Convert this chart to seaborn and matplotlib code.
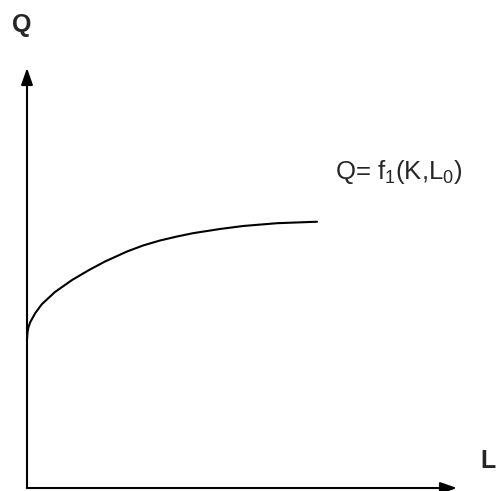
import matplotlib
matplotlib.use("Agg")
import matplotlib.pyplot as plt
from matplotlib.patches import FancyArrowPatch
import pandas as pd
import seaborn as sns

# Labour input L and output Q along the short-run production curve
labour = [0.000, 0.012, 0.035, 0.077, 0.193, 0.349, 0.651, 1.047, 1.442, 1.814,
          2.326, 2.698, 3.093, 3.488, 3.860, 4.488, 5.023, 5.814, 6.744]
output = [3.524, 3.714, 3.833, 3.952, 4.167, 4.381, 4.667, 4.952, 5.190, 5.393,
          5.631, 5.774, 5.893, 5.988, 6.067, 6.167, 6.238, 6.305, 6.340]

axis_length = 10.0
curve_label = "Q= f$_1$(K,L$_0$)"
x_axis_label = "L"
y_axis_label = "Q"

sns.set_theme(style="white")
plt.rcParams["font.family"] = ["Liberation Sans", "DejaVu Sans"]
plt.rcParams["mathtext.fontset"] = "custom"
plt.rcParams["mathtext.rm"] = "Liberation Sans"
plt.rcParams["mathtext.default"] = "regular"

df = pd.DataFrame({"L": labour, "Q": output})

fig = plt.figure(figsize=(4.98, 4.91), dpi=100)
ax = fig.add_axes([0, 0, 1, 1])
ax.set_xlim(-0.628, 10.953)
ax.set_ylim(-0.071, 11.619)
ax.set_axis_off()

sns.lineplot(data=df, x="L", y="Q", sort=False, estimator=None,
             color="black", linewidth=1.5, ax=ax)

# Axes drawn as arrows from the origin
for end in [(axis_length, 0), (0, axis_length)]:
    ax.add_patch(FancyArrowPatch((0, 0), end,
                                 arrowstyle="-|>,head_length=1.0,head_width=0.35",
                                 mutation_scale=10, color="black",
                                 linewidth=1.5, shrinkA=0, shrinkB=0))

ax.text(-0.116, 11.02, y_axis_label, fontsize=18, fontweight="bold",
        ha="center", va="center")
ax.text(10.72, 0.64, x_axis_label, fontsize=18, fontweight="bold",
        ha="center", va="center")
ax.text(7.163, 7.36, curve_label, fontsize=18.5, ha="left", va="baseline")

fig.savefig("out.png", dpi=100)
